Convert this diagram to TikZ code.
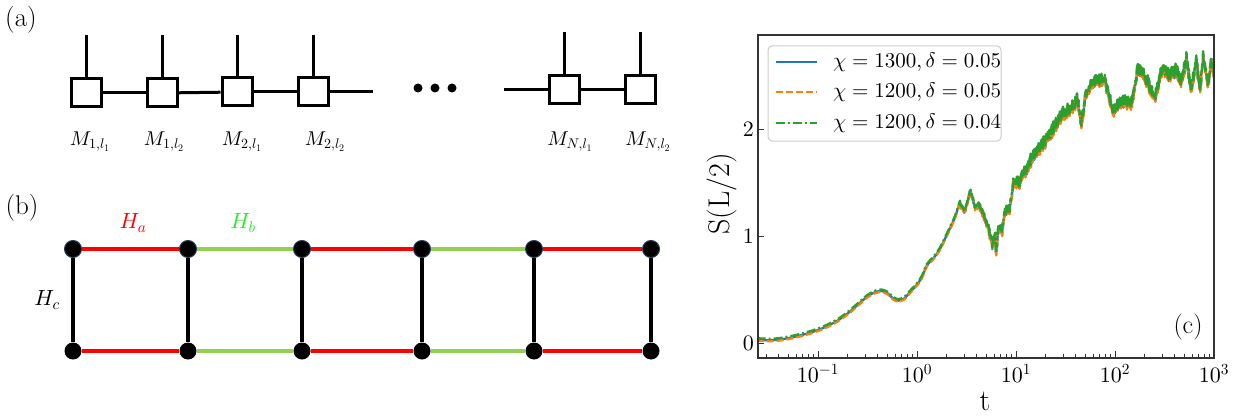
\documentclass[tikz,border=0pt]{standalone}
\DeclareFontShape{OT1}{cmr}{m}{n}{<-8>cmr7<8->cmr10}{}
\DeclareFontShape{OML}{cmm}{m}{it}{<-8>cmmi7<8->cmmi10}{}
\DeclareFontShape{OMS}{cmsy}{m}{n}{<-8>cmsy7<8->cmsy10}{}
\definecolor{cblue}{HTML}{1F77B4}
\definecolor{corange}{HTML}{FF7F0E}
\definecolor{cgreen}{HTML}{2CA02C}
\definecolor{hred}{HTML}{FF0000}
\definecolor{hgreen}{HTML}{92D050}
\definecolor{hlabelgreen}{HTML}{22EE22}
\definecolor{vnavy}{HTML}{283A5A}
\def\drawcurve#1{\expandafter\drawcurvei\expandafter{\pts}{#1}}
\def\drawcurvei#1#2{\draw[#2] #1;}
\begin{document}
\begin{tikzpicture}[x=1pt,y=-1pt,
  tn/.style={draw, line width=3pt, minimum width=30pt, minimum height=28pt, inner sep=0pt, fill=white},
  bond/.style={line width=3pt},
  lbl/.style={font=\fontsize{20}{24}\selectfont, inner sep=0pt},
  panel/.style={font=\fontsize{27}{31}\selectfont, inner sep=0pt},
  vtx/.style={circle, fill=black, inner sep=0pt, minimum size=17pt},
  vtxtop/.style={vtx, draw=vnavy, line width=1pt},
  redE/.style={line width=4.5pt, hred},
  grnE/.style={line width=4.5pt, hgreen},
  rung/.style={line width=4pt, black},
  hl/.style={font=\fontsize{22}{26}\selectfont, inner sep=0pt},
  tick/.style={line width=1pt, black!80},
  ticklbl/.style={font=\fontsize{22}{26}\selectfont, inner sep=0pt},
  leglbl/.style={font=\fontsize{21}{25}\selectfont, inner sep=0pt, anchor=west},
  s1/.style={cblue, line width=2.3pt, line join=round},
  s2/.style={corange, line width=2.3pt, line join=round, dash pattern=on 7pt off 3pt},
  s3/.style={cgreen, line width=2.3pt, line join=round, dash pattern=on 9pt off 3pt on 2pt off 3pt}
]
\useasboundingbox (0,0) rectangle (1246,417);

% ---------------- panel (a)
\node[panel] (la) at (21,20) {(a)};
\node[tn] (b1) at (86,93) {};
\node[tn] (b2) at (162,93) {};
\node[tn] (b3) at (237,92) {};
\node[tn] (b4) at (313,92) {};
\node[tn] (b5) at (564,90) {};
\node[tn] (b6) at (640,90) {};
\coordinate (u1) at (86,35);
\coordinate (u2) at (162,35);
\coordinate (u3) at (237,35);
\coordinate (u4) at (313,35);
\coordinate (u5) at (564,32);
\coordinate (u6) at (640,32);
\coordinate (r4) at (373,92);
\coordinate (l5) at (504,90);
\foreach \i in {1,...,6}{\draw[bond] (b\i.north) -- (u\i);}
\draw[bond] (b1) -- (b2);
\draw[bond] (b2) -- (b3);
\draw[bond] (b3) -- (b4);
\draw[bond] (b4) -- (r4);
\draw[bond] (l5) -- (b5);
\draw[bond] (b5) -- (b6);
\fill (418,88) circle (4.5);
\fill (435,88) circle (4.5);
\fill (452,88) circle (4.5);
\node[lbl] (m1) at (90,142) {$M_{1,l_1}$};
\node[lbl] (m2) at (164,142) {$M_{1,l_2}$};
\node[lbl] (m3) at (242,142) {$M_{2,l_1}$};
\node[lbl] (m4) at (325,142) {$M_{2,l_2}$};
\node[lbl] (m5) at (570,142) {$M_{N,l_1}$};
\node[lbl] (m6) at (648,142) {$M_{N,l_2}$};

% ---------------- panel (b)
\node[panel] (lb) at (22,208) {(b)};
\foreach \i/\xx in {1/73,2/188,3/302,4/422,5/534,6/651}{
  \node[vtxtop] (t\i) at (\xx,249) {};
  \node[vtx] (d\i) at (\xx,351) {};
}
\foreach \i/\j/\s in {1/2/redE,2/3/grnE,3/4/redE,4/5/grnE,5/6/redE}{
  \draw[\s] (t\i) -- (t\j);
  \draw[\s] (d\i) -- (d\j);
}
\foreach \i in {1,...,6}{\draw[rung] (t\i) -- (d\i);}
\node[hl, text=hred] (ha) at (133,223) {$H_a$};
\node[hl, text=hlabelgreen] (hb) at (243,223) {$H_b$};
\node[hl] (hc) at (47,300) {$H_c$};

% ---------------- panel (c)
% data curve
\pgfmathsetseed{17}
\gdef\pts{plot[smooth,tension=0.5] coordinates {(-1.62,0.045) (-1.5,0.04) (-1.4,0.045) (-1.3,0.06) (-1.2,0.08) (-1.1,0.105) (-1.0,0.135) (-0.9,0.175) (-0.8,0.225) (-0.7,0.29) (-0.6,0.37) (-0.5,0.45) (-0.42,0.49) (-0.36,0.50) (-0.3,0.48) (-0.24,0.43) (-0.19,0.41) (-0.13,0.43) (-0.07,0.49) (0,0.56) (0.05,0.63) (0.1,0.74) (0.16,0.80) (0.23,0.89) (0.33,1.08) (0.38,1.18) (0.43,1.32)}}
\foreach \x/\y/\a [remember=\x as \lx (initially 0.43), remember=\y as \ly (initially 1.32)] in
 {0.48/1.24/0.02, 0.54/1.43/0.02, 0.59/1.27/0.02, 0.62/1.31/0.02, 0.67/1.21/0.03, 0.72/1.08/0.03,
  0.76/0.93/0.04, 0.79/1.03/0.04, 0.80/0.84/0.04, 0.82/1.08/0.04, 0.86/1.06/0.04, 0.89/1.24/0.04,
  0.94/1.27/0.04, 0.97/1.50/0.05, 1.04/1.52/0.06, 1.17/1.76/0.06, 1.3/1.9/0.06, 1.47/2.15/0.06,
  1.58/2.22/0.06, 1.62/2.30/0.06, 1.66/2.05/0.06, 1.70/2.30/0.06, 1.78/2.46/0.06, 1.90/2.46/0.06,
  1.98/2.18/0.06, 2.08/2.27/0.06, 2.17/2.25/0.06, 2.23/2.58/0.06, 2.32/2.47/0.06, 2.40/2.30/0.06,
  2.48/2.58/0.06, 2.55/2.51/0.06, 2.62/2.56/0.06, 2.67/2.45/0.06, 2.72/2.66/0.06, 2.77/2.39/0.06,
  2.82/2.64/0.06, 2.86/2.37/0.06, 2.89/2.69/0.06, 2.94/2.43/0.06, 2.97/2.66/0.06, 3.0/2.52/0.06,
  3.03/2.5/0.06}{
  \pgfmathtruncatemacro\N{max(1,round((\x-\lx)/0.004))}
  \foreach \k in {1,...,\N}{
    \pgfmathsetmacro\px{\lx+(\x-\lx)*\k/\N}
    \pgfmathsetmacro\py{\ly+(\y-\ly)*\k/\N+\a*(2*mod(\k,2)-1)*rnd}
    \xdef\pts{\pts -- (\px,\py)}
  }
}
\begin{scope}
  \clip (758,35) rectangle (1214,358);
  \begin{scope}[shift={(917,343)}, x=99pt, y=107pt]
    \drawcurve{s1, yshift=-1.5pt}
    \drawcurve{s2, yshift=-2.5pt}
    \drawcurve{s3}
  \end{scope}
\end{scope}

% axes frame
\draw[line width=1.4pt, black!80] (758,35) rectangle (1214,358);
% x ticks
\foreach \d/\lab in {-1/{-1},0/0,1/1,2/2,3/3}{
  \pgfmathsetmacro\tx{917+99*\d}
  \draw[tick] (\tx,358) -- (\tx,351);
  \node[ticklbl, anchor=north] at (\tx,364) {$10^{\lab}$};
}
\foreach \d in {-2,...,2}{
  \foreach \k in {2,...,9}{
    \pgfmathsetmacro\tx{917+99*(\d+log10(\k))}
    \pgfmathparse{(\tx>758.5)&&(\tx<1213.5)?1:0}
    \ifnum\pgfmathresult=1 \draw[tick, line width=0.8pt] (\tx,358) -- (\tx,354); \fi
  }
}
% y ticks
\foreach \v in {0,1,2}{
  \pgfmathsetmacro\ty{343-107*\v}
  \draw[tick] (758,\ty) -- (764,\ty);
  \node[ticklbl, anchor=east] at (754,\ty) {$\v$};
}
\node[font=\fontsize{30}{34}\selectfont, inner sep=0pt] (xl) at (985,401) {t};
\node[font=\fontsize{30}{34}\selectfont, inner sep=0pt, rotate=90] (yl) at (722,194) {S(L/2)};
\node[font=\fontsize{26}{30}\selectfont, inner sep=0pt] (lc) at (1188,327) {(c)};

% legend
\draw[rounded corners=4pt, draw=black!20, line width=1pt, fill=white] (768,46) rectangle (1001,141);
\coordinate (e1a) at (776,62); \coordinate (e1b) at (817,62);
\coordinate (e2a) at (776,92); \coordinate (e2b) at (817,92);
\coordinate (e3a) at (776,123); \coordinate (e3b) at (817,123);
\draw[s1] (e1a) -- (e1b);
\draw[s2] (e2a) -- (e2b);
\draw[s3] (e3a) -- (e3b);
\node[leglbl] (t1) at (833,62) {$\chi = 1300, \delta = 0.05$};
\node[leglbl] (t2) at (833,92) {$\chi = 1200, \delta = 0.05$};
\node[leglbl] (t3) at (833,123) {$\chi = 1200, \delta = 0.04$};
\end{tikzpicture}
\end{document}
